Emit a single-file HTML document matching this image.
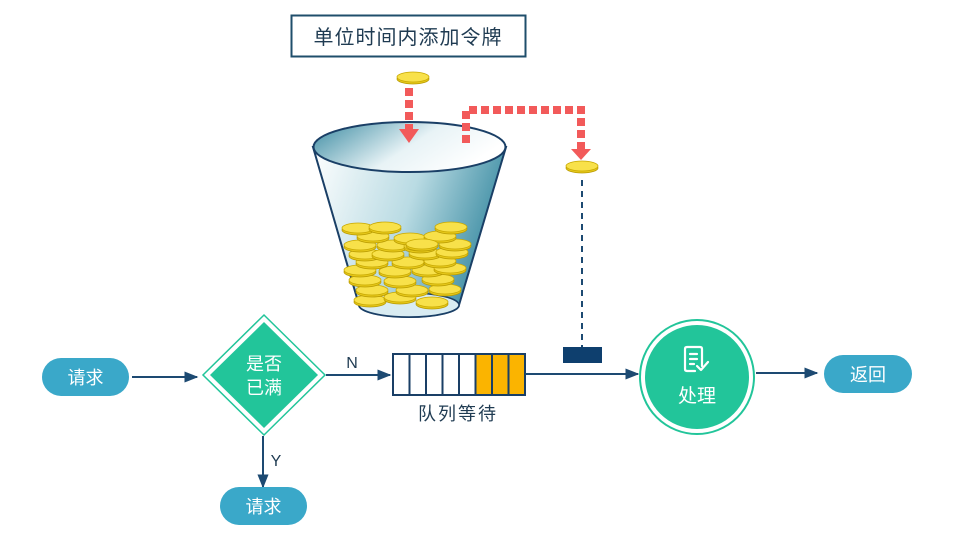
<!DOCTYPE html>
<html><head><meta charset="utf-8"><style>
html,body{margin:0;padding:0;background:#fff;}
svg{display:block;}
text{font-family:"Liberation Sans","Noto Sans CJK SC",sans-serif;}
</style></head><body>
<svg width="953" height="552" viewBox="0 0 953 552" xmlns="http://www.w3.org/2000/svg">
<defs>
<linearGradient id="bg" x1="0" y1="0" x2="1" y2="0.3">
<stop offset="0" stop-color="#ffffff"/><stop offset="0.55" stop-color="#b9dbe3"/><stop offset="1" stop-color="#3f8ea4"/>
</linearGradient>
<linearGradient id="tg" x1="0" y1="0" x2="1" y2="0.4">
<stop offset="0" stop-color="#3a8aa1"/><stop offset="0.6" stop-color="#e8f3f6"/><stop offset="1" stop-color="#ffffff"/>
</linearGradient>
<g id="coin"><ellipse cx="0" cy="2" rx="16" ry="5" fill="#e6c81a" stroke="#b89a00" stroke-width="0.8"/><ellipse cx="0" cy="0" rx="16" ry="5" fill="#f8e14a" stroke="#c8a800" stroke-width="0.8"/></g>
<marker id="ar" viewBox="0 0 10 10" refX="9" refY="5" markerWidth="7" markerHeight="7" orient="auto"><path d="M0,1 L10,5 L0,9 z" fill="#1d4a72"/></marker>
</defs>
<rect x="291.5" y="15.5" width="234" height="41" fill="#fff" stroke="#1f4e6b" stroke-width="2"/>
<text x="408" y="44" font-size="20" fill="#1f3b52" text-anchor="middle" letter-spacing="1">单位时间内添加令牌</text>
<path d="M313,147 L359,305 A50,12 0 0 0 459,305 L506,147 Z" fill="url(#bg)" stroke="#1a3f66" stroke-width="2"/>
<ellipse cx="409" cy="305" rx="50" ry="12" fill="#d9ecf2" stroke="#1a3f66" stroke-width="1.5"/>
<g>
<use href="#coin" x="370" y="300"/><use href="#coin" x="432" y="302"/><use href="#coin" x="400" y="297"/>
<use href="#coin" x="372" y="290"/><use href="#coin" x="412" y="290"/><use href="#coin" x="445" y="289"/>
<use href="#coin" x="365" y="280"/><use href="#coin" x="400" y="281"/><use href="#coin" x="438" y="279"/>
<use href="#coin" x="360" y="270"/><use href="#coin" x="395" y="271"/><use href="#coin" x="428" y="270"/><use href="#coin" x="450" y="268"/>
<use href="#coin" x="372" y="262"/><use href="#coin" x="408" y="262"/><use href="#coin" x="440" y="261"/>
<use href="#coin" x="365" y="254"/><use href="#coin" x="388" y="254"/><use href="#coin" x="425" y="253"/><use href="#coin" x="452" y="252"/>
<use href="#coin" x="360" y="245"/><use href="#coin" x="393" y="245"/><use href="#coin" x="420" y="246"/><use href="#coin" x="455" y="244"/>
<use href="#coin" x="373" y="236"/><use href="#coin" x="410" y="238"/><use href="#coin" x="440" y="236"/><use href="#coin" x="422" y="244"/>
<use href="#coin" x="358" y="228"/><use href="#coin" x="385" y="227"/><use href="#coin" x="451" y="227"/>
</g>
<ellipse cx="409.5" cy="147" rx="96" ry="25" fill="url(#tg)" stroke="#1a3f66" stroke-width="2"/>
<use href="#coin" x="413" y="77"/>
<line x1="409" y1="88" x2="409" y2="130" stroke="#f25a5a" stroke-width="8" stroke-dasharray="8,4"/>
<path d="M399,129 L419,129 L409,143 Z" fill="#f25a5a"/>
<path d="M466,143 L466,110 L581,110 L581,150" fill="none" stroke="#f25a5a" stroke-width="8" stroke-dasharray="8,4"/>
<path d="M571,149 L591,149 L581,160 Z" fill="#f25a5a"/>
<use href="#coin" x="582" y="166"/>
<line x1="582" y1="180" x2="582" y2="348" stroke="#1d4a72" stroke-width="2" stroke-dasharray="6,5"/>
<rect x="563" y="347" width="39" height="16" fill="#0e3f6e"/>
<rect x="42" y="358" width="87" height="38" rx="19" fill="#3aa8c9"/>
<text x="85.5" y="384" font-size="18" fill="#fff" text-anchor="middle">请求</text>
<line x1="132" y1="377" x2="197" y2="377" stroke="#1d4a72" stroke-width="2" marker-end="url(#ar)"/>
<path d="M264,315 L325,375 L264,435 L203,375 Z" fill="#fff" stroke="#22c59a" stroke-width="1.5"/>
<path d="M264,322 L318,375 L264,428 L210,375 Z" fill="#22c59a"/>
<text x="264" y="370" font-size="18" fill="#fff" text-anchor="middle">是否</text>
<text x="264" y="394" font-size="18" fill="#fff" text-anchor="middle">已满</text>
<line x1="326" y1="375" x2="390" y2="375" stroke="#1d4a72" stroke-width="2" marker-end="url(#ar)"/>
<text x="352" y="368" font-size="16" fill="#1f3b52" text-anchor="middle">N</text>
<line x1="263" y1="436" x2="263" y2="487" stroke="#1d4a72" stroke-width="2" marker-end="url(#ar)"/>
<text x="276" y="466" font-size="16" fill="#1f3b52" text-anchor="middle">Y</text>
<rect x="220" y="487" width="87" height="38" rx="19" fill="#3aa8c9"/>
<text x="263.5" y="513" font-size="18" fill="#fff" text-anchor="middle">请求</text>
<g stroke="#1a3f66" stroke-width="2">
<rect x="393" y="354" width="16.5" height="41" fill="#fff"/>
<rect x="409.5" y="354" width="16.5" height="41" fill="#fff"/>
<rect x="426" y="354" width="16.5" height="41" fill="#fff"/>
<rect x="442.5" y="354" width="16.5" height="41" fill="#fff"/>
<rect x="459" y="354" width="16.5" height="41" fill="#fff"/>
<rect x="475.5" y="354" width="16.5" height="41" fill="#fbb400"/>
<rect x="492" y="354" width="16.5" height="41" fill="#fbb400"/>
<rect x="508.5" y="354" width="16.5" height="41" fill="#fbb400"/>
</g>
<text x="458" y="420" font-size="18" fill="#1f3b52" text-anchor="middle" letter-spacing="2">队列等待</text>
<line x1="525" y1="374" x2="638" y2="374" stroke="#1d4a72" stroke-width="2" marker-end="url(#ar)"/>
<circle cx="697" cy="377" r="57" fill="#fff" stroke="#22c59a" stroke-width="2"/>
<circle cx="697" cy="377" r="52" fill="#22c59a"/>
<g fill="none" stroke="#fff" stroke-width="2.2" stroke-linecap="round" stroke-linejoin="round">
<path d="M702,366 L702,349 Q702,347 700,347 L687,347 Q685,347 685,349 L685,369 Q685,371 687,371 L695,371"/>
<line x1="690" y1="354" x2="697" y2="354"/><line x1="690" y1="359" x2="697" y2="359"/><line x1="690" y1="364" x2="694" y2="364"/>
<path d="M697,366 L701,370 L708,362"/>
</g>
<text x="697" y="402" font-size="19" fill="#fff" text-anchor="middle">处理</text>
<line x1="756" y1="373" x2="817" y2="373" stroke="#1d4a72" stroke-width="2" marker-end="url(#ar)"/>
<rect x="824" y="355" width="88" height="38" rx="19" fill="#3aa8c9"/>
<text x="868" y="381" font-size="18" fill="#fff" text-anchor="middle">返回</text>
</svg>
</body></html>
